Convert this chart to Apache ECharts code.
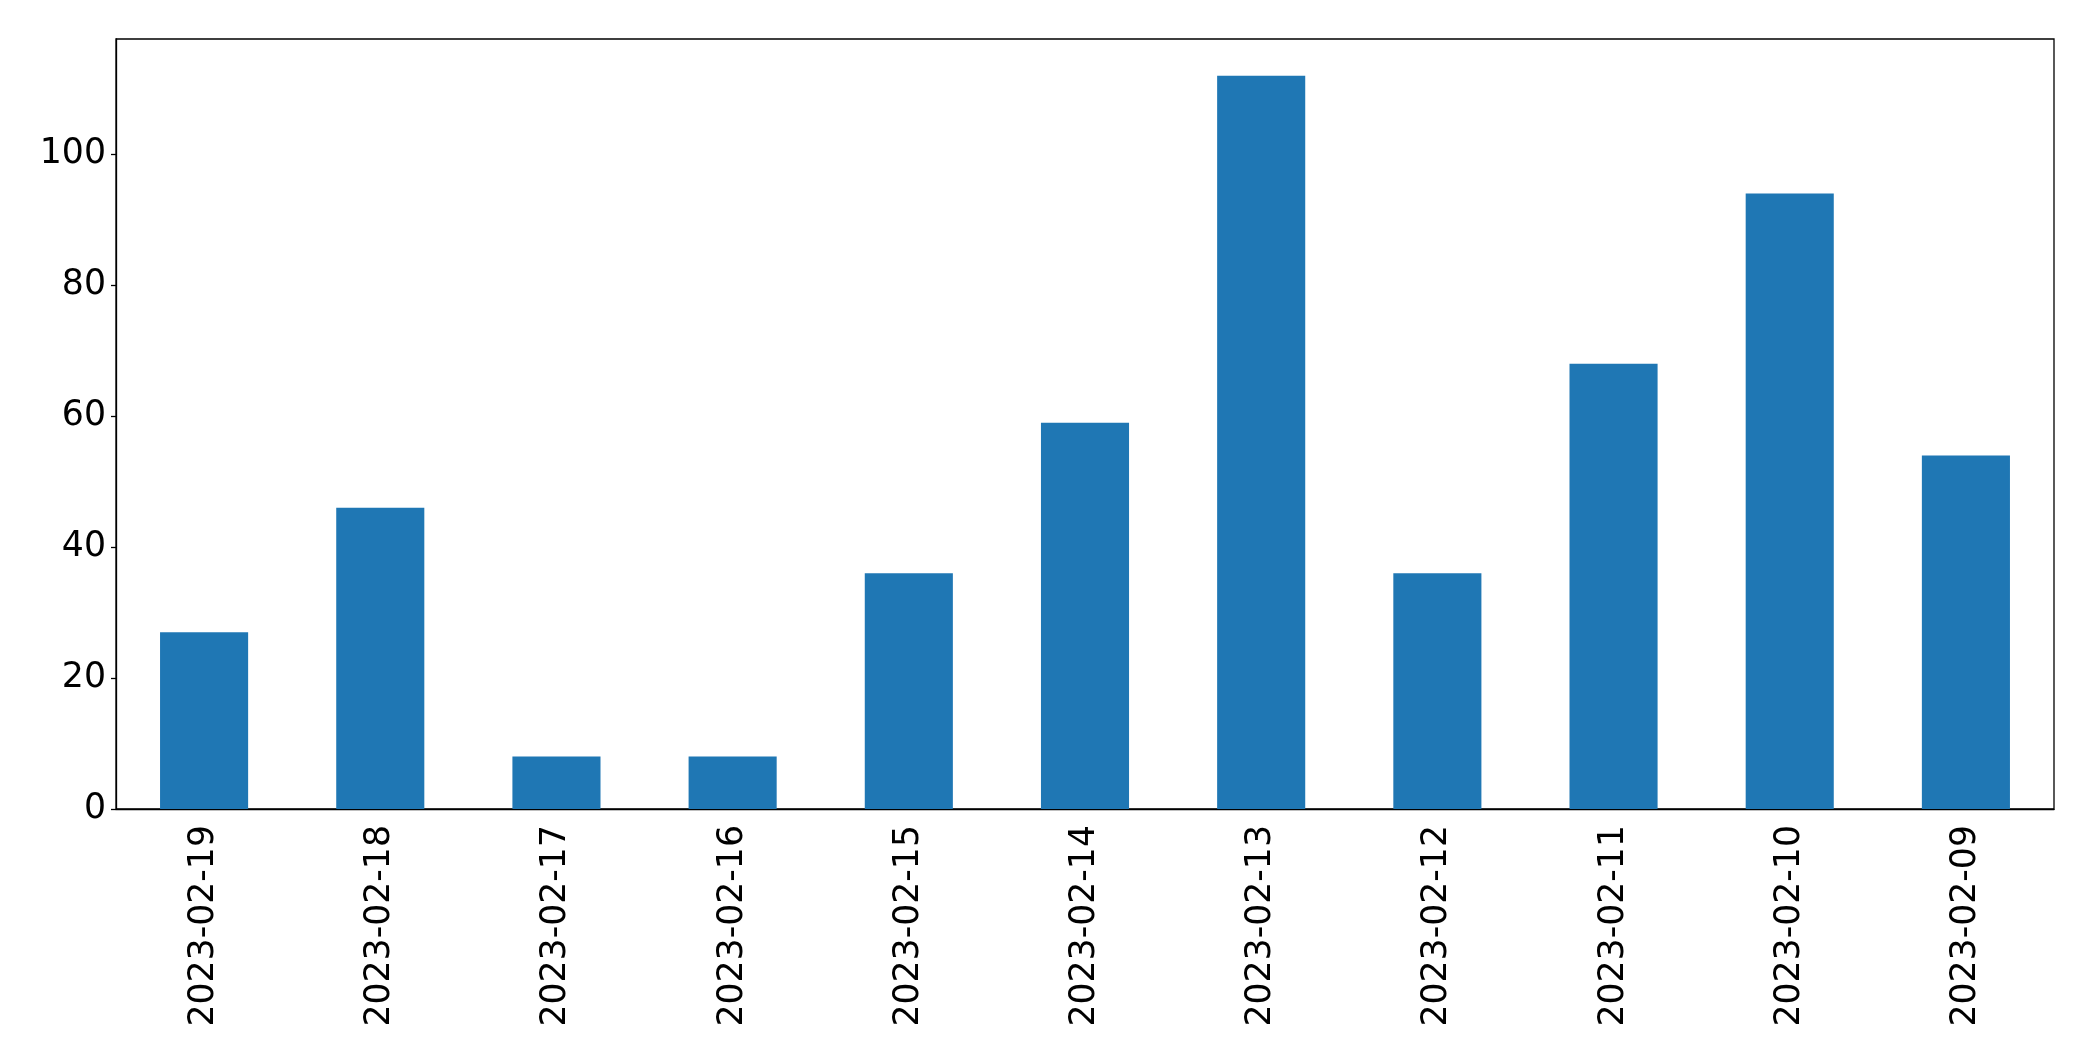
<!DOCTYPE html>
<html>
<head>
<meta charset="utf-8">
<script src="https://cdn.jsdelivr.net/npm/echarts@6/dist/echarts.min.js"></script>
<style>
  html, body { margin: 0; padding: 0; background: #fff; }
  #chart { width: 2093px; height: 1061px; }
</style>
</head>
<body>
<div id="chart"></div>
<script>
// 数据
const dates = ['2023-02-19', '2023-02-18', '2023-02-17', '2023-02-16', '2023-02-15', '2023-02-14',
  '2023-02-13', '2023-02-12', '2023-02-11', '2023-02-10', '2023-02-09']
const counts = [27, 46, 8, 8, 36, 59, 112, 36, 68, 94, 54]
const yMax = 117.6

const chart = echarts.init(document.getElementById('chart'))

const option = {
  animation: false,
  backgroundColor: '#fff',
  grid: {
    left: 116,
    right: 39,
    top: 39,
    bottom: 252,
    show: true,
    borderColor: '#000',
    borderWidth: 1.3
  },
  xAxis: {
    type: 'category',
    data: dates,
    boundaryGap: true,
    axisLine: { lineStyle: { color: '#000', width: 1.3 } },
    axisTick: { alignWithLabel: true, length: 5, lineStyle: { color: '#000', width: 1.3 } },
    axisLabel: {
      interval: 0,
      rotate: 90,
      margin: 16,
      color: '#000',
      fontFamily: 'DejaVu Sans',
      fontSize: 34.7
    }
  },
  yAxis: {
    type: 'value',
    min: 0,
    max: yMax,
    interval: 20,
    splitLine: { show: false },
    axisLine: { show: true, lineStyle: { color: '#000', width: 1.3 } },
    axisTick: { show: true, length: 5, lineStyle: { color: '#000', width: 1.3 } },
    axisLabel: {
      margin: 10,
      padding: [3, 0, 0, 0],
      color: '#000',
      fontFamily: 'DejaVu Sans',
      fontSize: 34.7,
      showMaxLabel: false
    }
  },
  series: [
    {
      type: 'bar',
      data: counts,
      barWidth: '50%',
      itemStyle: { color: '#1f77b4' }
    }
  ]
}

chart.setOption(option)
</script>
</body>
</html>
